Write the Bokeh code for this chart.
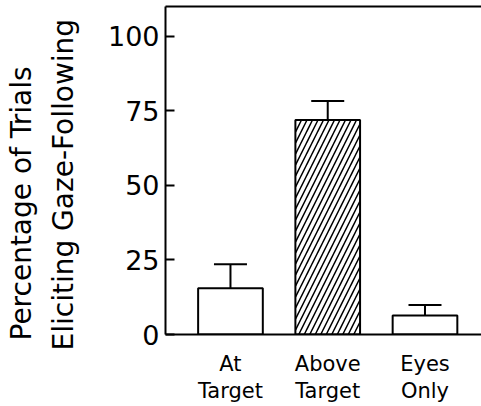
from bokeh.plotting import figure
from bokeh.models import (FixedTicker, LinearAxis, Whisker, TeeHead, ColumnDataSource,
                          Title, Range1d)
from bokeh.embed import file_html
from bokeh.resources import INLINE

categories = ["At\nTarget", "Above\nTarget", "Eyes\nOnly"]
values = [15.5, 71.9, 6.4]
upper = [23.6, 78.3, 9.9]
hatches = [" ", "/", " "]
y_ticks = [0, 25, 50, 75, 100]
ylabel_lines = ["Percentage of Trials", "Eliciting Gaze-Following"]

xs = [1, 2, 3]
FONT = "DejaVu Sans"

src = ColumnDataSource(dict(x=xs, top=values, upper=upper, hatch=hatches))

p = figure(width=481, height=406, output_backend="svg", toolbar_location=None,
           x_range=Range1d(0.332, 3.581), y_range=Range1d(0, 110),
           min_border_left=165, min_border_right=0, min_border_top=6,
           min_border_bottom=72)
p.outline_line_color = None
p.grid.visible = False
p.background_fill_color = "white"

p.vbar(x="x", top="top", bottom=0, width=0.665, source=src,
       fill_color="white", line_color="black", line_width=2,
       hatch_pattern="hatch", hatch_color="black", hatch_scale=11, hatch_weight=1.5)

wh = Whisker(base="x", lower="top", upper="upper", source=src,
             line_color="black", line_width=2,
             upper_head=TeeHead(size=33, line_color="black", line_width=2),
             lower_head=None)
p.add_layout(wh)

# y axis
ya = p.yaxis[0]
ya.ticker = FixedTicker(ticks=y_ticks)
ya.major_tick_in = 9
ya.major_tick_out = 0
ya.minor_tick_line_color = None
ya.axis_line_width = 2
ya.major_tick_line_width = 2
ya.major_label_text_font = FONT
ya.major_label_text_font_size = "27px"
ya.major_label_text_color = "black"
ya.major_label_standoff = 6

# x axis: first line of each category label
first = {x: c.split("\n")[0] for x, c in zip(xs, categories)}
second = {x: c.split("\n")[1] for x, c in zip(xs, categories)}

xa = p.xaxis[0]
xa.ticker = FixedTicker(ticks=xs)
xa.major_label_overrides = first
xa.major_tick_line_color = None
xa.major_tick_in = 0
xa.major_tick_out = 0
xa.minor_tick_line_color = None
xa.axis_line_width = 2
xa.major_label_text_font = FONT
xa.major_label_text_font_size = "21px"
xa.major_label_text_color = "black"
xa.major_label_standoff = 17

# second line of each category label
xa2 = LinearAxis(ticker=FixedTicker(ticks=xs), major_label_overrides=second,
                 axis_line_color=None, major_tick_line_color=None,
                 minor_tick_line_color=None, major_tick_in=0, major_tick_out=0,
                 major_label_text_font=FONT, major_label_text_font_size="21px",
                 major_label_text_color="black", major_label_standoff=0)
p.add_layout(xa2, "below")

# top border line
top = LinearAxis(major_tick_line_color=None, minor_tick_line_color=None,
                 major_label_text_font_size="0px", axis_line_width=2,
                 major_label_standoff=0)
top.ticker = FixedTicker(ticks=[])
p.add_layout(top, "above")

# y-axis title as two rotated lines (closest to the axis first)
p.add_layout(Title(text=ylabel_lines[1], align="left", offset=-16, standoff=50,
                   text_font=FONT, text_font_size="28px",
                   text_font_style="normal", text_color="black"), "left")
p.add_layout(Title(text=ylabel_lines[0], align="left", offset=-6, standoff=-37,
                   text_font=FONT, text_font_size="28px",
                   text_font_style="normal", text_color="black"), "left")

open("out.html", "w").write(file_html(p, INLINE))
